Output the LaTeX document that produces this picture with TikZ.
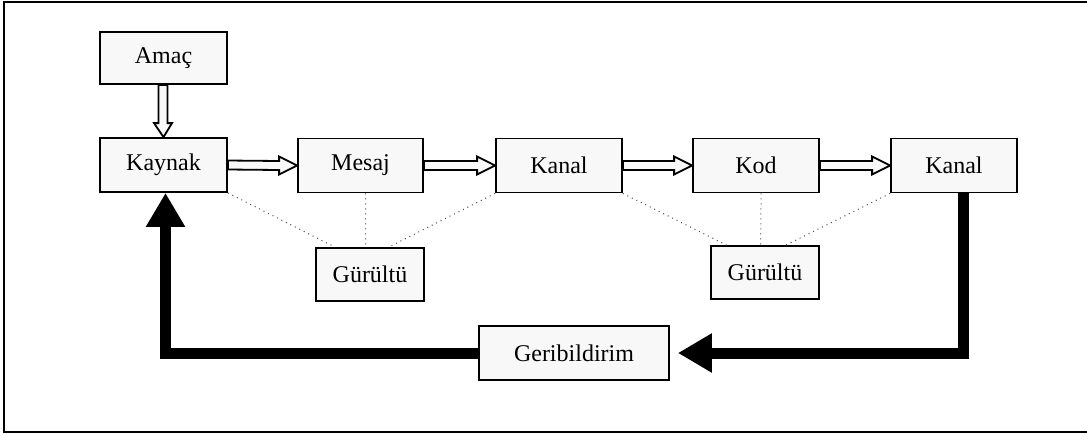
\documentclass[tikz,border=0pt]{standalone}
\usepackage{fontspec}
\setmainfont{Liberation Serif}
\usepackage{tikz}
\usetikzlibrary{arrows.meta,positioning,calc}
\definecolor{boxfill}{HTML}{F8F8F8}

\begin{document}
\begin{tikzpicture}[
    x=0.5pt,y=-0.5pt,
    box/.style={draw,fill=boxfill,line width=0.9pt,inner sep=2pt,font=\fontsize{12}{14}\selectfont,minimum height=27pt},
    hollow/.style={draw,fill=boxfill,line width=0.9pt,line join=miter},
    noise/.style={draw=black!70,line width=0.5pt,dotted},
    feedback/.style={line width=5.5pt,-{Triangle[length=17pt,width=18.5pt]}}
]
\useasboundingbox (0,0) rectangle (1087,435);
\draw[line width=1pt] (1087,2) -- (4,2) -- (4,432) -- (1087,432);
% top row
\node[box,minimum width=63.5pt,minimum height=26pt] (amac) at (163.5,58) {Amaç};
\node[box,minimum width=63.5pt] (kaynak) at (163.5,165) {Kaynak};
\node[box,minimum width=62.5pt] (mesaj) at (360.5,165.5) {Mesaj};
\node[box,minimum width=63pt] (kanalA) at (559,165.5) {Kanal};
\node[box,minimum width=63pt] (kod) at (756,165.5) {Kod};
\node[box,minimum width=63pt] (kanalB) at (954,165.5) {Kanal};
% noise and feedback
\node[box,minimum width=54pt,minimum height=26.5pt] (gA) at (370,274.5) {Gürültü};
\node[box,minimum width=54pt,minimum height=26.5pt] (gB) at (765,272.5) {Gürültü};
\node[box,minimum width=95pt] (geri) at (574,353) {Geribildirim};
% hollow arrows
\draw[hollow] ($(amac.south)+(-5,0)$) -- ($(kaynak.north)+(-5,-14)$) -- ($(kaynak.north)+(-9.5,-14)$)
    -- (kaynak.north) -- ($(kaynak.north)+(8.5,-14)$) -- ($(kaynak.north)+(4,-14)$) -- ($(amac.south)+(4,0)$) -- cycle;
\foreach \a/\b in {kaynak/mesaj,mesaj/kanalA,kanalA/kod,kod/kanalB}
  \draw[hollow] ($(\a.east)+(0,-4.5)$) -- ($(\b.west)+(-18,-4.5)$) -- ($(\b.west)+(-18,-9)$)
      -- (\b.west) -- ($(\b.west)+(-18,9)$) -- ($(\b.west)+(-18,4.5)$) -- ($(\a.east)+(0,4.5)$) -- cycle;
% dotted links to noise
\draw[noise] (kaynak.south east) -- ($(gA.north west)!0.18!(gA.north east)$);
\draw[noise] ($(mesaj.south west)!0.54!(mesaj.south east)$) -- ($(gA.north west)!0.46!(gA.north east)$);
\draw[noise] (kanalA.south west) -- ($(gA.north west)!0.67!(gA.north east)$);
\draw[noise] (kanalA.south east) -- ($(gB.north west)!0.15!(gB.north east)$);
\draw[noise] ($(kod.south west)!0.54!(kod.south east)$) -- ($(gB.north west)!0.46!(gB.north east)$);
\draw[noise] (kanalB.south west) -- ($(gB.north west)!0.69!(gB.north east)$);
% feedback loop
\draw[feedback,shorten >=4pt] ($(kanalB.south)+(9,0)$) |- (geri.east);
\draw[feedback] (geri.west) -| ($(kaynak.south)+(2,0)$);
\end{tikzpicture}
\end{document}
